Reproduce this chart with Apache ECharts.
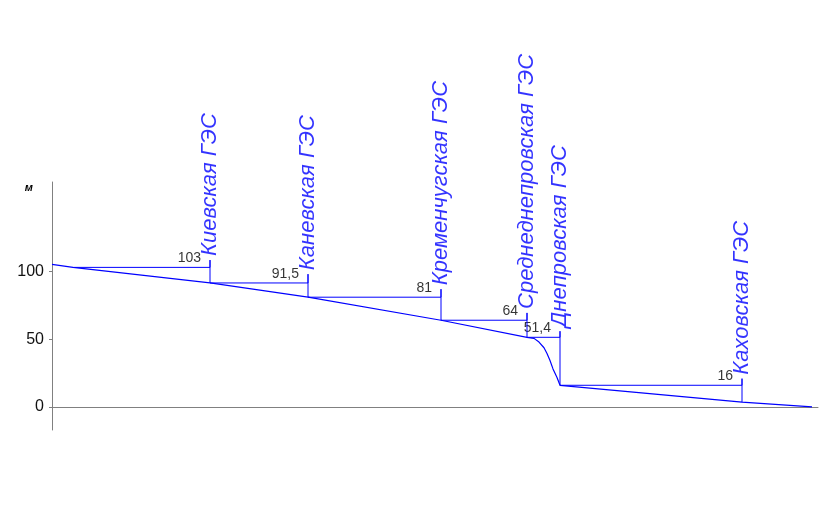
<!DOCTYPE html>
<html>
<head>
<meta charset="utf-8">
<script src="https://cdn.jsdelivr.net/npm/echarts@6/dist/echarts.min.js"></script>
<style>
html,body{margin:0;padding:0;background:#fff;}
#chart{width:820px;height:510px;}
</style>
</head>
<body>
<div id="chart"></div>
<script>
// Water-surface profile of the Dnieper cascade (x: distance, y: level in m)
const profileX = [0, 21, 158, 256, 389, 475, 482, 487, 492, 495, 498, 501, 505, 508, 690, 760];
const profileY = [105.2, 103, 91.5, 81, 64, 51.4, 50.6, 47.9, 43.7, 39.5, 34.3, 28.1, 21.8, 16, 3.6, 0];

// Dams
const damNames = ['Киевская ГЭС', 'Каневская ГЭС', 'Кременчугская ГЭС', 'Среднеднепровская ГЭС', 'Днепровская ГЭС', 'Каховская ГЭС'];
const damX = [158, 256, 389, 475, 508, 690];
const headLevel = [103, 91.5, 81, 64, 51.4, 16];
const headLabels = ['103', '91,5', '81', '64', '51,4', '16'];
const headStartX = [21, 158, 256, 389, 475, 508];
const damTop = [108.4, 98.0, 86.9, 69.4, 55.9, 20.9];
const damBottom = [91.5, 81, 64, 51.4, 16, 3.6];

// Axis
const yTicks = [0, 50, 100];
const yMin = -17, yMax = 166, xMin = 0, xMax = 766;

const BLUE = '#0000ff';
const chart = echarts.init(document.getElementById('chart'), null, {renderer: 'canvas'});

const profileData = profileX.map((x, i) => [x, profileY[i]]);

const damSeries = damX.map((x, i) => ({
  type: 'line',
  data: [[headStartX[i], headLevel[i]], [x, headLevel[i]], [x, damTop[i]], [x, damBottom[i]]],
  showSymbol: false,
  silent: true,
  lineStyle: {color: BLUE, width: 1},
  z: 3
}));

const option = {
  animation: false,
  backgroundColor: '#fff',
  grid: {left: 52, right: 2, top: 182, bottom: 80},
  xAxis: {
    type: 'value', min: xMin, max: xMax,
    axisLine: {show: true, onZero: true, lineStyle: {color: '#808080', width: 1}},
    axisTick: {show: false}, axisLabel: {show: false}, splitLine: {show: false}
  },
  yAxis: {
    type: 'value', min: yMin, max: yMax,
    name: 'м', nameLocation: 'end', nameGap: -6,
    nameTextStyle: {fontFamily: 'Liberation Sans', fontSize: 11, fontStyle: 'italic', fontWeight: 'bold', color: '#000',
      align: 'right', verticalAlign: 'middle', padding: [0, 19, 0, 0]},
    axisLine: {show: true, lineStyle: {color: '#808080', width: 1}},
    axisTick: {show: true, length: 3, customValues: yTicks, lineStyle: {color: '#808080'}},
    axisLabel: {customValues: yTicks, fontFamily: 'Liberation Sans', fontSize: 16, color: '#111', margin: 8},
    splitLine: {show: false}
  },
  series: [
    {
      type: 'line', data: profileData, showSymbol: false, silent: true,
      lineStyle: {color: BLUE, width: 1.2}, z: 4
    },
    ...damSeries,
    {
      type: 'scatter', symbolSize: 0, silent: true,
      data: damX.map((x, i) => ({value: [x, headLevel[i]], label: {formatter: headLabels[i]}})),
      label: {show: true, position: 'left', distance: 9, align: 'right', verticalAlign: 'bottom', offset: [0, -2],
        fontFamily: 'Liberation Sans', fontSize: 14, color: '#000'}
    },
    {
      type: 'scatter', symbolSize: 0, silent: true,
      data: damX.map((x, i) => ({value: [x, damTop[i]], label: {formatter: damNames[i]}})),
      label: {show: true, position: 'top', distance: 4, rotate: 90, align: 'left', verticalAlign: 'middle',
        fontFamily: 'Liberation Sans', fontSize: 22, fontStyle: 'italic', color: BLUE}
    }
  ]
};
chart.setOption(option);
</script>
</body>
</html>
